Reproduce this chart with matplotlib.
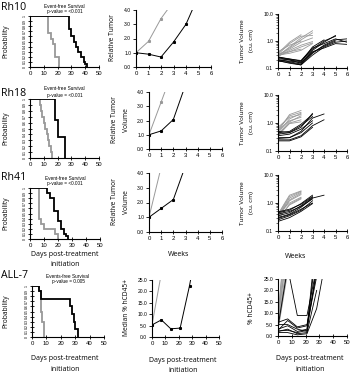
import matplotlib
matplotlib.use("Agg")
import matplotlib.pyplot as plt
import numpy as np

W, H = 350, 374
GRAY = "#999999"

# ---------------- DATA ----------------
row_names = ["Rh10", "Rh18", "Rh41", "ALL-7"]
km_titles = ["Event-free Survival", "Event-free Survival", "Event-free Survival", "Events-free Survival"]
km_pvalues = ["p-value = <0.001", "p-value = <0.001", "p-value = <0.001", "p-value = 0.005"]

# Kaplan-Meier step curves (day, probability)
km_ctrl = [
    ([0, 13, 13, 15, 15, 17, 17, 18, 18, 21, 21], [1, 1, 0.67, 0.67, 0.55, 0.55, 0.45, 0.45, 0.2, 0.2, 0]),
    ([0, 7, 7, 8, 8, 9, 9, 10, 10, 11, 11, 12, 12, 13, 13, 14, 14, 15, 15, 16, 16],
     [1, 1, 0.9, 0.9, 0.8, 0.8, 0.7, 0.7, 0.6, 0.6, 0.5, 0.5, 0.4, 0.4, 0.3, 0.3, 0.2, 0.2, 0.1, 0.1, 0]),
    ([0, 6.5, 6.5, 8, 8, 10, 10, 18, 18, 20, 20], [1, 1, 0.4, 0.4, 0.3, 0.3, 0.2, 0.2, 0.1, 0.1, 0]),
    ([0, 4.6, 4.6, 6, 6, 6.6, 6.6, 8.4, 8.4], [1, 1, 0.9, 0.9, 0.5, 0.5, 0.3, 0.3, 0]),
]
km_treat = [
    ([0, 28, 28, 30, 30, 32, 32, 33, 33, 35, 35, 37, 37, 39, 39, 40, 40, 41, 41],
     [1, 1, 0.75, 0.75, 0.6, 0.6, 0.5, 0.5, 0.4, 0.4, 0.3, 0.3, 0.2, 0.2, 0.1, 0.1, 0.05, 0.05, 0]),
    ([0, 18, 18, 20, 20, 25, 25], [1, 1, 0.65, 0.65, 0.35, 0.35, 0]),
    ([0, 12, 12, 14, 14, 17, 17, 20, 20, 22, 22, 24, 24, 26, 26, 27, 27],
     [1, 1, 0.9, 0.9, 0.8, 0.8, 0.55, 0.55, 0.35, 0.35, 0.2, 0.2, 0.1, 0.1, 0.05, 0.05, 0]),
    ([0, 4.6, 4.6, 6.2, 6.2, 26.7, 26.7, 28, 28, 29, 29, 30, 30, 32, 32],
     [1, 1, 0.9, 0.9, 0.75, 0.75, 0.6, 0.6, 0.45, 0.45, 0.3, 0.3, 0.15, 0.15, 0]),
]

# Median relative tumor volume / hCD45
med_x = [[0, 1, 2, 3, 4, 5], [0, 1, 2, 3], [0, 1, 2, 3], [0, 7, 14, 21, 28, 35]]
med_treat = [[1.0, 0.9, 0.7, 1.75, 3.0, 5.0], [1.0, 1.27, 2.07, 4.5], [1.0, 1.6, 2.2, 4.5],
             [5.3, 7.5, 3.6, 3.9, 22.5, 45]]
med_ctrl_x = [[0, 1, 2, 3], [0, 1, 2], [0, 1], [0, 7]]
med_ctrl = [[1.0, 1.8, 3.4, 4.6], [1.0, 3.3, 5.6], [1.0, 4.4], [5.3, 28]]

# Individual tumors (weeks / days)
ind_ctrl = [
    [[0.30, 0.55, 1.1, 2.0], [0.28, 0.6, 1.3, 2.4], [0.35, 0.9, 1.7], [0.32, 0.8, 1.5, 1.6],
     [0.3, 0.5, 0.9, 1.3], [0.27, 0.45, 0.7, 0.95], [0.33, 0.4, 0.6, 0.85], [0.4, 0.7, 1.0],
     [0.3, 0.35, 0.45, 0.8], [0.28, 0.4, 0.5]],
    [[0.5, 2.0, 2.8], [0.6, 1.8, 2.4], [0.45, 1.4, 2.2], [0.4, 1.1, 1.8], [0.7, 1.6, 2.0],
     [0.35, 1.0, 1.3], [0.55, 1.2, 1.6], [0.38, 0.95, 1.1]],
    [[0.4, 1.9, 2.7], [0.35, 1.5, 2.4], [0.3, 1.2, 2.0], [0.42, 1.0, 1.6], [0.28, 0.85, 1.4],
     [0.33, 1.3, 2.2], [0.38, 1.7, 2.6], [0.25, 0.9, 1.5]],
    [[6, 40], [8, 45], [10, 50], [4, 35], [3, 30], [7, 60], [2.5, 28], [5, 32], [9, 38]],
]
ind_treat = [
    [[0.22, 0.2, 0.15, 0.45, 0.9, 1.6], [0.25, 0.22, 0.18, 0.5, 1.0, 1.5], [0.2, 0.17, 0.14, 0.35, 0.7, 1.1, 1.2],
     [0.18, 0.16, 0.13, 0.3, 0.6, 0.9, 1.0], [0.26, 0.21, 0.19, 0.55, 0.8, 1.2, 0.9],
     [0.2, 0.18, 0.16, 0.4, 0.55, 0.8, 0.75], [0.24, 0.2, 0.17, 0.6, 1.1], [0.19, 0.15, 0.13, 0.38, 0.65, 1.0]],
    [[0.3, 0.3, 0.5, 1.5, 2.1], [0.25, 0.25, 0.35, 0.8, 1.3], [0.4, 0.45, 0.7, 2.2],
     [0.45, 0.5, 0.9, 2.0], [0.23, 0.23, 0.32, 0.7], [0.35, 0.4, 0.6, 1.2], [0.5, 0.46, 0.8, 1.7],
     [0.28, 0.3, 0.45, 1.0]],
    [[0.3, 0.4, 0.7, 1.5, 1.9], [0.35, 0.45, 0.8, 1.6], [0.25, 0.35, 0.55, 1.2], [0.45, 0.55, 0.95, 1.9],
     [0.4, 0.5, 0.75, 1.4], [0.28, 0.38, 0.6, 1.0], [0.48, 0.6, 0.9, 1.7], [0.22, 0.3, 0.5, 0.95]],
    [[4, 30, 9, 9, 30], [6, 7.5, 4, 5, 28], [2.5, 6.8, 3.5, 4.5, 26], [2, 3, 1, 1.5, 20],
     [5, 5, 3, 2, 30], [3, 4.5, 2, 3, 45], [1.5, 1.5, 0.5, 1, 12, 35], [2.2, 2.5, 1.5, 2.5, 40]],
]
ind_days = [0, 7, 14, 21, 28, 35]

# ---------------- LAYOUT ----------------
fig = plt.figure(figsize=(W / 100, H / 100), dpi=100)
plt.rcParams['font.family'] = ['Liberation Sans', 'DejaVu Sans']
LBL = ['Open Sans', 'DejaVu Sans']


def rect(x0, x1, yt, yb):
    return [x0 / W, 1 - yb / H, (x1 - x0) / W, (yb - yt) / H]


def ftext(x, y, s, **kw):
    fig.text(x / W, 1 - y / H, s, **kw)


km_pos = [(30, 99, 16, 67), (30, 99, 99, 158), (30, 100, 188, 239), (32, 104, 286, 337)]
mid_pos = [(136, 211, 10, 67), (149, 222, 92, 149), (149, 222, 173, 232), (152, 219, 280, 337)]
rt_pos = [(278, 347, 14, 68), (278, 347, 95, 151), (278, 347, 175, 231), (278, 347, 279, 336)]


def style(ax):
    for s in ("top", "right"):
        ax.spines[s].set_visible(False)
    for s in ("left", "bottom"):
        ax.spines[s].set_linewidth(0.8)
    ax.tick_params(width=0.6, length=2, pad=1.5)


for i in range(4):
    # KM
    ax = fig.add_axes(rect(*km_pos[i]))
    style(ax)
    ax.plot(km_ctrl[i][0], km_ctrl[i][1], color=GRAY, lw=1.3, solid_joinstyle="miter")
    ax.plot(km_treat[i][0], km_treat[i][1], color="black", lw=1.3, solid_joinstyle="miter")
    ax.set_xlim(0, 50)
    ax.set_ylim(0, 1)
    ax.set_xticks(np.arange(0, 51, 10))
    ax.set_yticks(np.round(np.arange(0, 1.01, 0.1), 1))
    ax.set_yticklabels(["0"] + ["%.1f" % v for v in np.arange(0.1, 0.95, 0.1)] + ["1"],
                       rotation=90, va="center", fontsize=2.5)
    ax.tick_params(axis="x", labelsize=4.3, direction="inout", length=3)
    ax.tick_params(axis="y", direction="inout", length=3, pad=0.5)
    cx = (km_pos[i][0] + km_pos[i][1]) / 2 + 0
    ftext(cx, km_pos[i][2] - 10, km_titles[i], ha="center", va="center", fontsize=3.4)
    ftext(cx, km_pos[i][2] - 4, km_pvalues[i], ha="center", va="center", fontsize=3.4)
    ftext(6, (km_pos[i][2] + km_pos[i][3]) / 2, "Probability", rotation=90, ha="center",
          va="center", fontsize=4.8, family=LBL)

    # Middle
    ax = fig.add_axes(rect(*mid_pos[i]))
    style(ax)
    ax.plot(med_ctrl_x[i], med_ctrl[i], color=GRAY, lw=0.7, marker="s", ms=1.2)
    ax.plot(med_x[i], med_treat[i], color="black", lw=0.7, marker="s", ms=1.2)
    if i < 3:
        ax.set_xlim(0, 6)
        ax.set_ylim(0, 4)
        ax.set_xticks(range(7))
        ax.set_yticks([0, 1, 2, 3, 4])
        ax.set_yticklabels(["%.1f" % v for v in range(5)])
    else:
        ax.set_xlim(0, 50)
        ax.set_ylim(0, 25)
        ax.set_xticks(range(0, 51, 10))
        ax.set_yticks(range(0, 26, 5))
        ax.set_yticklabels(["%.1f" % v for v in range(0, 26, 5)])
    ax.tick_params(axis="x", labelsize=4.3, direction="inout", length=3)
    ax.tick_params(axis="y", labelsize=3.6)

    # Right
    ax = fig.add_axes(rect(*rt_pos[i]))
    style(ax)
    if i < 3:
        for ys in ind_ctrl[i]:
            ax.plot(range(len(ys)), ys, color=GRAY, lw=0.6)
        for ys in ind_treat[i]:
            ax.plot(range(len(ys)), ys, color="black", lw=0.6)
        ax.set_yscale("log")
        ax.set_xlim(0, 6)
        ax.set_ylim(0.1, 10)
        ax.set_xticks(range(7))
        ax.set_yticks([0.1, 1, 10])
        ax.set_yticklabels(["0.1", "1.0", "10.0"])
        ax.tick_params(axis="y", which="minor", length=1.2, width=0.4)
        ax.yaxis.set_minor_formatter(matplotlib.ticker.NullFormatter())
    else:
        for ys in ind_ctrl[i]:
            ax.plot(ind_days[:len(ys)], ys, color=GRAY, lw=0.6)
        for ys in ind_treat[i]:
            ax.plot(ind_days[:len(ys)], ys, color="black", lw=0.6)
        ax.set_xlim(0, 50)
        ax.set_ylim(0, 25)
        ax.set_xticks(range(0, 51, 10))
        ax.set_yticks(range(0, 26, 5))
        ax.set_yticklabels(["%.1f" % v for v in range(0, 26, 5)])
    ax.tick_params(axis="x", labelsize=4.3, direction="inout", length=3)
    ax.tick_params(axis="y", labelsize=3.6)

# Row labels
row_y = [7, 93, 177, 276]
for name, y in zip(row_names, row_y):
    ftext(1, y, name, ha="left", va="center", fontsize=7.6, family=LBL)

# Middle/right y labels
ftext(113, 38, "Relative Tumor", rotation=90, ha="center", va="center", fontsize=4.8, family=LBL)
for yc in [120, 202]:
    ftext(115, yc, "Relative Tumor", rotation=90, ha="center", va="center", fontsize=4.8, family=LBL)
    ftext(127, yc, "Volume", rotation=90, ha="center", va="center", fontsize=4.8, family=LBL)
ftext(126, 308, "Median % hCD45+", rotation=90, ha="center", va="center", fontsize=4.8, family=LBL)
for yc in [41, 123, 203]:
    ftext(242, yc, "Tumor Volume", rotation=90, ha="center", va="center", fontsize=4.6, family=LBL)
    ftext(251, yc, "(cu. cm)", rotation=90, ha="center", va="center", fontsize=4.6, family=LBL)
ftext(251, 308, "% hCD45+", rotation=90, ha="center", va="center", fontsize=4.8, family=LBL)

# x labels
ftext(65, 254, "Days post-treatment", ha="center", va="center", fontsize=5, family=LBL)
ftext(65, 264, "initiation", ha="center", va="center", fontsize=5, family=LBL)
ftext(179, 255, "Weeks", ha="center", va="center", fontsize=5, family=LBL)
ftext(296, 256, "Weeks", ha="center", va="center", fontsize=5, family=LBL)
for xc, yy in [(65, 359), (183, 360), (310, 359)]:
    ftext(xc, yy, "Days post-treatment", ha="center", va="center", fontsize=5, family=LBL)
    ftext(xc, yy + 10.5, "initiation", ha="center", va="center", fontsize=5, family=LBL)

fig.savefig("out.png", dpi=100)
